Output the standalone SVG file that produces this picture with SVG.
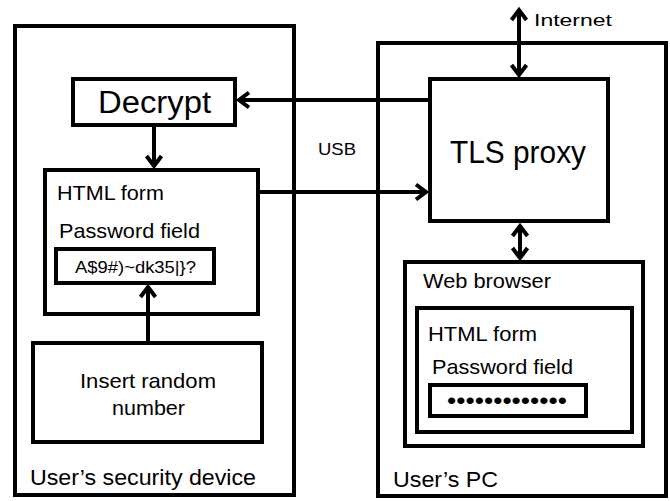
<svg xmlns="http://www.w3.org/2000/svg" width="670" height="501" viewBox="0 0 670 501">
<defs>
<style>
.box{fill:#fff;stroke:#000;stroke-width:4}
.t{font-family:"Liberation Sans",Arial,sans-serif;fill:#000}
.c{stroke:#000;stroke-width:4;fill:none}
</style>
<marker id="ah" markerUnits="userSpaceOnUse" viewBox="-14 -10 18 20" markerWidth="18" markerHeight="20" refX="0" refY="0" orient="auto-start-reverse">
<path d="M-11,-7.5 L-1,0 L-11,7.5" fill="none" stroke="#000" stroke-width="4" stroke-linejoin="miter"/>
</marker>
</defs>
<rect width="670" height="501" fill="#fff"/>
<g id="device">
<rect class="box" x="15" y="26" width="279" height="469"/>
<text class="t" x="30" y="485" font-size="22" textLength="226" lengthAdjust="spacingAndGlyphs">User’s security device</text>
</g>
<g id="pc">
<rect class="box" x="378" y="43" width="288" height="453"/>
<text class="t" x="393" y="487" font-size="22" textLength="105" lengthAdjust="spacingAndGlyphs">User’s PC</text>
</g>
<g id="decrypt">
<rect class="box" x="73" y="79" width="162" height="46"/>
<text class="t" x="98" y="113" font-size="31" textLength="113" lengthAdjust="spacingAndGlyphs">Decrypt</text>
</g>
<g id="form1">
<rect class="box" x="45" y="170" width="213" height="144"/>
<text class="t" x="57" y="200" font-size="21" textLength="107" lengthAdjust="spacingAndGlyphs">HTML form</text>
<text class="t" x="59" y="238" font-size="21" textLength="141" lengthAdjust="spacingAndGlyphs">Password field</text>
</g>
<g id="pw1">
<rect class="box" x="56" y="249" width="158" height="34"/>
<text class="t" x="75" y="273" font-size="16" textLength="121" lengthAdjust="spacingAndGlyphs">A$9#)~dk35|}?</text>
</g>
<g id="random">
<rect class="box" x="33" y="343" width="229" height="99"/>
<text class="t" x="80" y="388" font-size="21" textLength="136" lengthAdjust="spacingAndGlyphs">Insert random</text>
<text class="t" x="112" y="415" font-size="21" textLength="73" lengthAdjust="spacingAndGlyphs">number</text>
</g>
<g id="tls">
<rect class="box" x="430" y="79" width="178" height="142"/>
<text class="t" x="450" y="163" font-size="31" textLength="136" lengthAdjust="spacingAndGlyphs">TLS proxy</text>
</g>
<g id="browser">
<rect class="box" x="405" y="262" width="238" height="184"/>
<text class="t" x="423" y="288" font-size="20" textLength="128" lengthAdjust="spacingAndGlyphs">Web browser</text>
</g>
<g id="form2">
<rect class="box" x="417" y="308" width="215" height="124"/>
<text class="t" x="428" y="341" font-size="21" textLength="109" lengthAdjust="spacingAndGlyphs">HTML form</text>
<text class="t" x="432" y="374" font-size="21" textLength="141" lengthAdjust="spacingAndGlyphs">Password field</text>
</g>
<g id="pw2">
<rect class="box" x="430" y="385" width="156" height="31"/>
<text class="t" x="447" y="409" font-size="24" textLength="120" lengthAdjust="spacingAndGlyphs">•••••••••••••</text>
</g>
<g id="labels">
<text class="t" x="534" y="26" font-size="17" textLength="78" lengthAdjust="spacingAndGlyphs">Internet</text>
<text class="t" x="318" y="155" font-size="17" textLength="38" lengthAdjust="spacingAndGlyphs">USB</text>
</g>
<g id="connectors">
<line class="c" x1="430" y1="100" x2="238" y2="100" marker-end="url(#ah)"/>
<line class="c" x1="154" y1="125" x2="154" y2="167" marker-end="url(#ah)"/>
<line class="c" x1="148" y1="341" x2="148" y2="286" marker-end="url(#ah)"/>
<line class="c" x1="258" y1="192" x2="427" y2="192" marker-end="url(#ah)"/>
<line class="c" x1="519" y1="9" x2="519" y2="76" marker-start="url(#ah)" marker-end="url(#ah)"/>
<line class="c" x1="520" y1="225" x2="520" y2="259" marker-start="url(#ah)" marker-end="url(#ah)"/>
</g>
</svg>
